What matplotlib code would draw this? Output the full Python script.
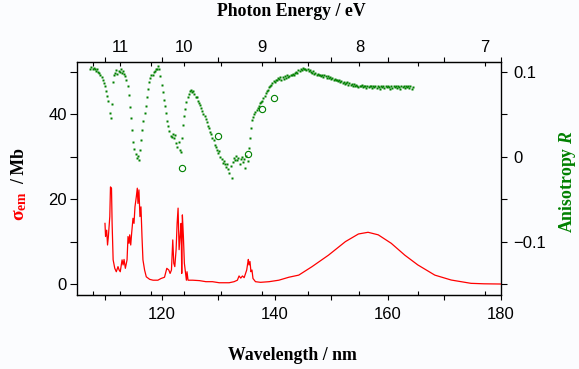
import numpy as np
import matplotlib
matplotlib.use("Agg")
import matplotlib.pyplot as plt

RED = "#ff0000"
GREEN = "#008000"
BG = "#fbfcfe"

plt.rcParams.update({
    "font.family": "Liberation Sans",
    "mathtext.fontset": "custom",
    "mathtext.rm": "Liberation Serif:bold",
    "mathtext.bf": "Liberation Serif:bold",
    "mathtext.it": "Liberation Serif:italic:bold",
})

# emission cross section (Mb) vs wavelength (nm)
wl_em = [110.0, 110.1, 110.3, 110.45, 110.6, 110.85, 110.97, 111.15, 111.26, 111.44,
         111.73, 112.0, 112.3, 112.5, 112.7, 113.02, 113.2, 113.37, 113.6, 113.9,
         114.07, 114.25, 114.37, 114.55, 114.72, 114.95, 115.13, 115.3, 115.54, 115.71,
         115.83, 116.0, 116.18, 116.36, 116.54, 116.71, 117.0, 117.3, 117.9, 118.5,
         119.35, 119.9, 120.52, 120.93, 121.28, 121.51, 121.75, 121.98, 122.16, 122.34,
         122.57, 122.75, 122.92, 123.1, 123.27, 123.45, 123.57, 123.68, 123.86, 124.03,
         124.21, 124.39, 124.5, 124.68, 125.5, 126.7, 127.84, 129.0, 130.2, 131.95,
         132.82, 133.4, 133.7, 134.0, 134.3, 134.6, 134.9, 135.05, 135.23, 135.34,
         135.46, 135.63, 135.8, 135.98, 136.16, 136.6, 137.5, 139.0, 140.73, 142.5,
         144.25, 146.6, 149.5, 152.5, 154.8, 156.5, 158.3, 160.6, 163.0, 165.3,
         168.3, 171.2, 174.7, 177.0, 180.0]
sigma_em = [14.3, 11.2, 12.7, 9.2, 11.2, 15.9, 22.9, 22.6, 14.3, 5.7,
            3.7, 2.9, 4.1, 3.3, 2.9, 5.7, 4.5, 5.8, 3.7, 5.7,
            11.2, 9.6, 11.6, 9.2, 12.1, 15.5, 14.3, 18.2, 20.6, 22.6,
            19.0, 22.2, 15.9, 18.2, 11.2, 5.7, 3.3, 1.7, 1.1, 0.9,
            0.9, 1.3, 1.6, 3.7, 3.3, 2.5, 3.3, 10.4, 4.9, 4.1,
            8.1, 14.3, 17.9, 8.1, 11.2, 14.3, 2.5, 16.3, 11.2, 4.9,
            2.9, 0.9, 2.9, 0.9, 0.9, 0.8, 0.55, 0.55, 0.3, 0.3,
            0.55, 0.9, 1.9, 1.4, 1.9, 1.5, 2.7, 3.3, 4.9, 5.8,
            4.5, 5.3, 2.9, 3.3, 1.3, 0.55, 0.4, 0.55, 0.9, 1.6,
            2.1, 4.1, 6.8, 10.0, 11.8, 12.2, 11.6, 9.6, 6.8, 4.5,
            2.1, 0.94, 0.16, 0.05, 0.0]

# anisotropy R, sampled every 0.2 nm from 107.4 nm
R_start, R_step = 107.4, 0.2
R_vals = [
    0.104, 0.106, 0.103, 0.105, 0.104, 0.101, 0.103, 0.100, 0.099, 0.097,
    0.094, 0.091, 0.087, 0.083, 0.078, 0.072, 0.066, 0.052, 0.046, 0.062,
    0.088, 0.097, 0.099, 0.102, 0.098, 0.101, 0.100, 0.103, 0.099, 0.101,
    0.098, 0.095, 0.091, 0.084, 0.073, 0.059, 0.046, 0.031, 0.017, 0.009,
    0.003, -0.002, 0.001, -0.004, 0.008, 0.020, 0.031, 0.042, 0.052, 0.060,
    0.070, 0.080, 0.088, 0.093, 0.096, 0.097, 0.100, 0.101, 0.104, 0.103,
    0.107, 0.104, 0.095, 0.085, 0.076, 0.067, 0.060, 0.052, 0.042, 0.036,
    0.030, 0.025, 0.023, 0.027, 0.022, 0.026, 0.016, 0.012, 0.018, 0.008,
    0.006, 0.022, 0.038, 0.048, 0.056, 0.064, 0.071, 0.074, 0.077, 0.079,
    0.076, 0.078, 0.074, 0.071, 0.070, 0.066, 0.063, 0.061, 0.057, 0.054,
    0.050, 0.048, 0.044, 0.041, 0.036, 0.034, 0.029, 0.027, 0.022, 0.020,
    0.014, 0.012, 0.008, 0.005, 0.007, 0.000, -0.003, -0.007, -0.005, -0.009,
    -0.012, -0.008, -0.014, -0.019, -0.011, -0.025, -0.006, -0.001, -0.004, 0.001,
    -0.004, -0.002, -0.008, -0.003, 0.000, -0.006, -0.003, -0.013, 0.001, -0.005,
    0.010, 0.022, 0.034, 0.043, 0.047, 0.050, 0.053, 0.055, 0.058, 0.060,
    0.063, 0.065, 0.066, 0.069, 0.072, 0.075, 0.077, 0.079, 0.082, 0.084,
    0.085, 0.087, 0.089, 0.088, 0.091, 0.090, 0.093, 0.092, 0.094, 0.091,
    0.094, 0.092, 0.095, 0.093, 0.096, 0.094, 0.095, 0.097, 0.096, 0.098,
    0.097, 0.099, 0.100, 0.099, 0.102, 0.101, 0.104, 0.102, 0.105, 0.103,
    0.104, 0.102, 0.103, 0.101, 0.102, 0.100, 0.099, 0.101, 0.098, 0.099,
    0.097, 0.098, 0.096, 0.097, 0.095, 0.096, 0.094, 0.096, 0.095, 0.093,
    0.095, 0.093, 0.094, 0.092, 0.093, 0.091, 0.092, 0.090, 0.091, 0.089,
    0.090, 0.088, 0.089, 0.087, 0.088, 0.086, 0.087, 0.088, 0.085, 0.087,
    0.085, 0.086, 0.084, 0.086, 0.083, 0.085, 0.084, 0.082, 0.084, 0.083,
    0.085, 0.082, 0.083, 0.084, 0.081, 0.083, 0.082, 0.084, 0.083, 0.081,
    0.083, 0.082, 0.084, 0.081, 0.083, 0.082, 0.080, 0.083, 0.082, 0.084,
    0.081, 0.083, 0.082, 0.084, 0.082, 0.080, 0.083, 0.081, 0.084, 0.082,
    0.083, 0.081, 0.084, 0.082, 0.080, 0.083, 0.082, 0.084, 0.081, 0.083,
    0.082, 0.084, 0.081, 0.083, 0.080, 0.082,
]
wl_R = R_start + R_step * np.arange(len(R_vals))

# second anisotropy data set (open circles)
wl_circ = [123.7, 129.9, 135.3, 137.7, 139.9]
R_circ = [-0.0136, 0.0245, 0.0027, 0.056, 0.069]

energy_major = [11, 10, 9, 8, 7]
energy_minor = [11.5, 10.5, 9.5, 8.5, 7.5]


def wl2ev(x):
    x = np.asarray(x, dtype=float)
    with np.errstate(divide="ignore"):
        return 1239.84 / x


W, H = 579, 369
fig = plt.figure(figsize=(W / 100, H / 100), dpi=100, facecolor=BG)
L, Rr, T, B = 76.7, 501, 61.7, 295
ax = fig.add_axes([L / W, 1 - B / H, (Rr - L) / W, (B - T) / H])
ax.set_facecolor(BG)

ax.plot(wl_em, sigma_em, color=RED, lw=0.9, zorder=3)

ax.set_xlim(105, 180)
ax.set_ylim(-2.59, 52.43)
ax.set_xticks([120, 140, 160, 180])
ax.set_xticks([110, 130, 150, 170], minor=True)
ax.set_yticks([0, 20, 40])
ax.set_yticks([10, 30, 50], minor=True)
ax.tick_params(axis="x", which="both", direction="out", length=3.6, width=0.8,
               top=True, bottom=True, labeltop=False, pad=5, labelsize=12)
ax.tick_params(axis="y", which="both", direction="out", length=5, width=0.8,
               pad=2, labelsize=12)
for s in ax.spines.values():
    s.set_linewidth(0.9)

# photon energy ticks (inward) on top and bottom
sec_top = ax.secondary_xaxis("top", functions=(wl2ev, wl2ev))
sec_top.set_xticks(energy_major)
sec_top.set_xticks(energy_minor, minor=True)
sec_top.set_xticklabels([str(e) for e in energy_major])
sec_top.tick_params(which="both", direction="in", length=3.2, width=0.8,
                    pad=5, labelsize=12)
sec_bot = ax.secondary_xaxis("bottom", functions=(wl2ev, wl2ev))
sec_bot.set_xticks(energy_major)
sec_bot.set_xticks(energy_minor, minor=True)
sec_bot.tick_params(which="both", direction="in", length=3.2, width=0.8,
                    labelbottom=False)

ax2 = ax.twinx()
ax2.plot(wl_R, R_vals, "s", ms=2.0, color=GREEN, mec="none", zorder=3)
ax2.plot(wl_circ, R_circ, "o", ms=4.5, mfc="none", mec=GREEN, mew=0.8)
ax2.set_ylim(-0.163, 0.1121)
ax2.set_yticks([-0.1, 0, 0.1])
ax2.set_yticklabels(["\u22120.1", "0", "0.1"])
ax2.set_yticks([-0.15, -0.05, 0.05], minor=True)
ax2.tick_params(axis="y", which="both", direction="out", length=4.3, width=0.8,
                pad=4.5, labelsize=12)

fig.text(291 / W, 1 - 12 / H, "Photon Energy / eV", ha="center", va="center",
         family="Liberation Serif", fontweight="bold", fontsize=12.8)
fig.text(292 / W, 1 - 356 / H, "Wavelength / nm", ha="center", va="center",
         family="Liberation Serif", fontweight="bold", fontsize=12.8)

fig.text(20 / W, 1 - 221 / H, r"$\mathrm{\sigma}_{\mathbf{em}}$", color=RED,
         rotation=90, ha="center", va="bottom", fontsize=14)
fig.text(20 / W, 1 - 184 / H, "/ Mb", color="black", rotation=90,
         ha="center", va="bottom", family="Liberation Serif",
         fontweight="bold", fontsize=12.8)
fig.text(567 / W, 1 - 182 / H, r"Anisotropy $R$", color=GREEN, rotation=90,
         ha="center", va="center", family="Liberation Serif",
         fontweight="bold", fontsize=12.8)

fig.savefig("out.png", dpi=100, facecolor=BG)
